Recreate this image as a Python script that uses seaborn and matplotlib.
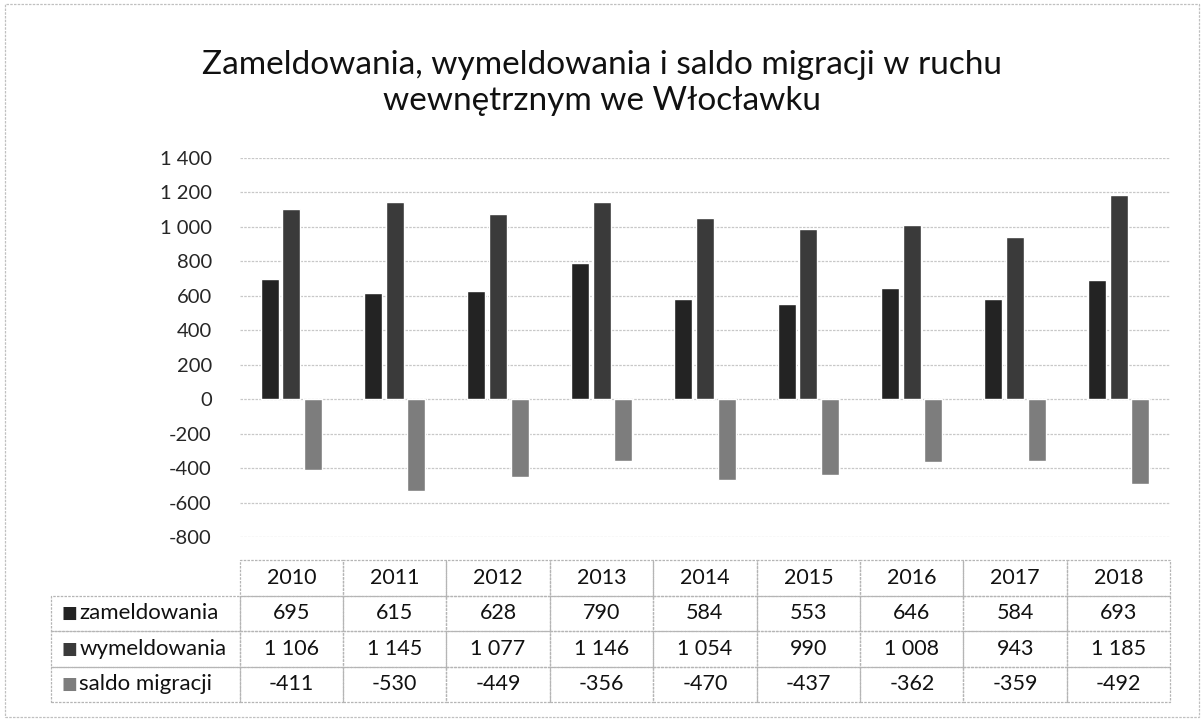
import numpy as np
import pandas as pd
import seaborn as sns
import matplotlib.pyplot as plt
from matplotlib.ticker import FuncFormatter
from matplotlib.patches import Rectangle

years = ['2010', '2011', '2012', '2013', '2014', '2015', '2016', '2017', '2018']
series = ['zameldowania', 'wymeldowania', 'saldo migracji']
zameldowania = [695, 615, 628, 790, 584, 553, 646, 584, 693]
wymeldowania = [1106, 1145, 1077, 1146, 1054, 990, 1008, 943, 1185]
saldo = [-411, -530, -449, -356, -470, -437, -362, -359, -492]
colors = ['#232323', '#3a3a3a', '#7d7d7d']
title = 'Zameldowania, wymeldowania i saldo migracji w ruchu\nwewnętrznym we Włocławku'

values = [zameldowania, wymeldowania, saldo]
df = pd.DataFrame({
    'rok': years * 3,
    'seria': [s for s in series for _ in years],
    'wartosc': zameldowania + wymeldowania + saldo,
})

def fmt(v):
    return f'{int(v):,}'.replace(',', ' ')

sns.set_style('white')
plt.rcParams['font.family'] = ['Lato', 'DejaVu Sans']

fig = plt.figure(figsize=(12.04, 7.21), dpi=100)
ax = fig.add_axes([0.199, 0.255, 0.773, 0.526])

sns.barplot(data=df, x='rok', y='wartosc', hue='seria', hue_order=series,
            palette=colors, width=0.63, gap=0.17, legend=False, ax=ax,
            saturation=1)

ax.set_ylim(-800, 1400)
ax.set_xlim(-0.5, len(years) - 0.5)
ax.set_yticks(range(-800, 1401, 200))
ax.yaxis.set_major_formatter(FuncFormatter(lambda v, p: fmt(v)))
ax.tick_params(axis='y', labelsize=14.5, length=0, pad=20)
ax.set_xticks([])
ax.set_xlabel('')
ax.set_ylabel('')
ax.grid(axis='y', color='#c8c8c8', linewidth=0.9, linestyle=(0, (2, 1)))
ax.set_axisbelow(True)
for s in ax.spines.values():
    s.set_visible(False)

fig.text(0.5, 0.885, title, ha='center', va='center', fontsize=24,
         linespacing=1.25, color='#111111')

# data table below the plot
left = (52 - 240) / 930
first_w = -left
col_w = 1 / len(years)
cell_text = [[''] + years] + [[''] + [fmt(v) for v in vals] for vals in values]
tab = ax.table(cellText=cell_text, cellLoc='center',
               colWidths=[first_w] + [col_w] * len(years),
               bbox=[left, -0.435, 1 - left, 0.374])
tab.auto_set_font_size(False)
tab.set_fontsize(15.5)
for (r, c), cell in tab.get_celld().items():
    cell.set_edgecolor('#b5b5b5')
    cell.set_linewidth(0.9)
    cell.set_linestyle((0, (2, 1)))
    cell.set_facecolor('none')
    cell.get_text().set_color('#111111')
tab[0, 0].visible_edges = 'open'

row_h = 0.374 / 4
for i, (name, col) in enumerate(zip(series, colors)):
    yc = -0.435 + row_h * (3 - i) - row_h / 2
    ax.text(left + 0.011, yc, '■', transform=ax.transAxes, ha='left', va='center',
            fontsize=12, color=col, family='DejaVu Sans')
    ax.text(left + 0.030, yc, name, transform=ax.transAxes, ha='left', va='center',
            fontsize=16, color='#111111')

fig.patches.append(Rectangle((0.004, 0.006), 0.992, 0.988, transform=fig.transFigure,
                             fill=False, edgecolor='#c0c0c0', linewidth=0.9,
                             linestyle=(0, (2, 1))))

fig.savefig('out.png', dpi=100)
